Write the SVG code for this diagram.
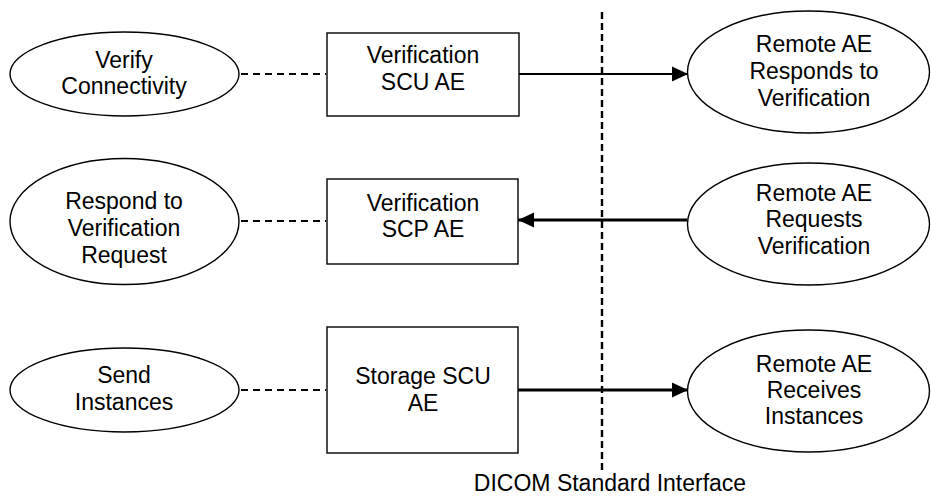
<svg xmlns="http://www.w3.org/2000/svg" width="931" height="497" viewBox="0 0 931 497">
<style>
.shape{fill:#fff;stroke:#000;stroke-width:1.4}
.t{font-family:"Liberation Sans",Arial,sans-serif;font-size:23px;fill:#000;text-anchor:middle}
.dash{stroke:#000;stroke-width:2.2;stroke-dasharray:7 5;fill:none}
.arr{stroke:#000;fill:none}
</style>
<defs>
<marker id="ah" markerUnits="userSpaceOnUse" markerWidth="16" markerHeight="16" viewBox="0 0 15 14" refX="15" refY="7" orient="auto">
<path d="M0,0 L15,7 L0,14 Z" fill="#000"/>
</marker>
</defs>
<g id="connectors">
<line class="dash" x1="241" y1="74" x2="326" y2="74"/>
<line class="dash" x1="241" y1="221" x2="326" y2="221"/>
<line class="dash" x1="241" y1="390" x2="326" y2="390"/>
<line class="arr" x1="519" y1="74" x2="688" y2="74" stroke-width="2.2" marker-end="url(#ah)"/>
<line class="arr" x1="687" y1="220" x2="518" y2="220" stroke-width="3" marker-end="url(#ah)"/>
<line class="arr" x1="518" y1="390" x2="688" y2="390" stroke-width="3" marker-end="url(#ah)"/>
<line x1="602" y1="12" x2="602" y2="472" stroke="#000" stroke-width="2.4" stroke-dasharray="7 4"/>
</g>
<g id="verify-connectivity">
<ellipse class="shape" cx="124.5" cy="74" rx="114.5" ry="42"/>
<text class="t" x="124" y="68">Verify</text>
<text class="t" x="124" y="94">Connectivity</text>
</g>
<g id="verification-scu-ae">
<rect class="shape" x="327" y="33" width="192" height="83"/>
<text class="t" x="423" y="63">Verification</text>
<text class="t" x="423" y="90">SCU AE</text>
</g>
<g id="remote-responds">
<ellipse class="shape" cx="808.5" cy="72" rx="121" ry="61"/>
<text class="t" x="814" y="52">Remote AE</text>
<text class="t" x="814" y="79">Responds to</text>
<text class="t" x="814" y="106">Verification</text>
</g>
<g id="respond-verification">
<ellipse class="shape" cx="124.5" cy="221.5" rx="114.5" ry="63"/>
<text class="t" x="124" y="209">Respond to</text>
<text class="t" x="124" y="236">Verification</text>
<text class="t" x="124" y="263">Request</text>
</g>
<g id="verification-scp-ae">
<rect class="shape" x="327" y="179" width="191" height="85"/>
<text class="t" x="423" y="211">Verification</text>
<text class="t" x="423" y="237">SCP AE</text>
</g>
<g id="remote-requests">
<ellipse class="shape" cx="808.5" cy="224" rx="121" ry="61"/>
<text class="t" x="814" y="201">Remote AE</text>
<text class="t" x="814" y="227">Requests</text>
<text class="t" x="814" y="254">Verification</text>
</g>
<g id="send-instances">
<ellipse class="shape" cx="124.5" cy="390" rx="114.5" ry="42"/>
<text class="t" x="124" y="383">Send</text>
<text class="t" x="124" y="410">Instances</text>
</g>
<g id="storage-scu-ae">
<rect class="shape" x="327" y="327" width="191" height="126"/>
<text class="t" x="423" y="384">Storage SCU</text>
<text class="t" x="423" y="411">AE</text>
</g>
<g id="remote-receives">
<ellipse class="shape" cx="808.5" cy="391" rx="121" ry="61"/>
<text class="t" x="814" y="372">Remote AE</text>
<text class="t" x="814" y="398">Receives</text>
<text class="t" x="814" y="424">Instances</text>
</g>
<text class="t" x="610" y="491">DICOM Standard Interface</text>
</svg>
